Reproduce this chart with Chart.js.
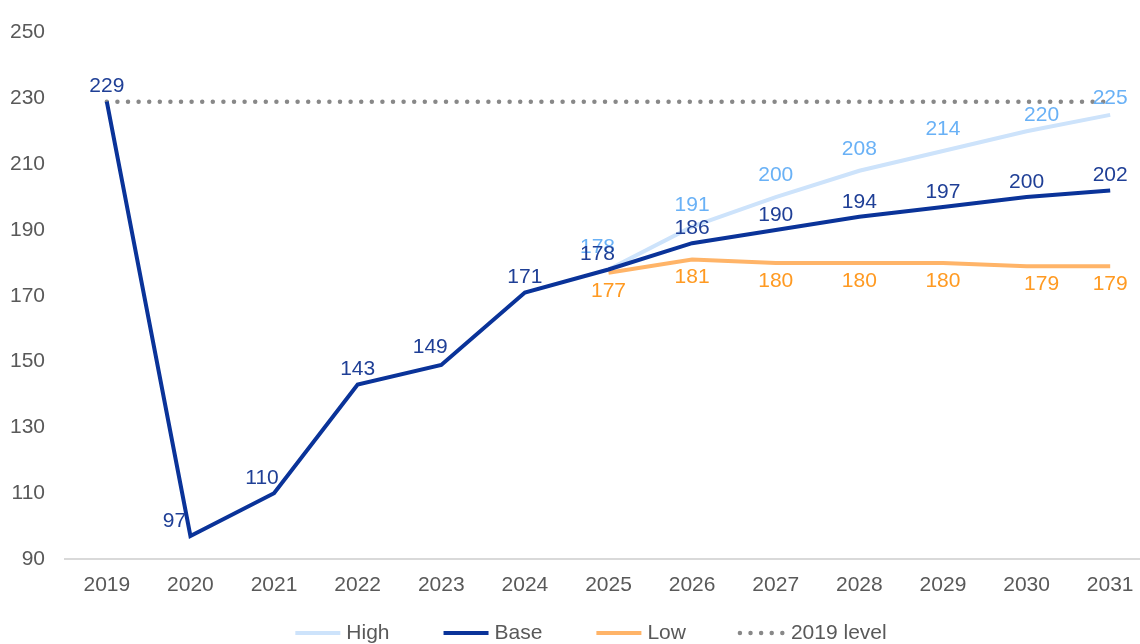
<!DOCTYPE html>
<html>
<head>
<meta charset="utf-8">
<script src="https://cdn.jsdelivr.net/npm/chart.js@4/dist/chart.umd.min.js"></script>
<style>
  html, body { margin: 0; padding: 0; background: #fff; overflow: hidden; }
  #wrap { width: 1180px; height: 654px; }
</style>
</head>
<body>
<div id="wrap"><canvas id="chart" width="1180" height="654"></canvas></div>
<script>
const years = ['2019', '2020', '2021', '2022', '2023', '2024', '2025', '2026', '2027', '2028', '2029', '2030', '2031'];
const high = [null, null, null, null, null, null, 178, 191, 200, 208, 214, 220, 225];
const base = [229, 97, 110, 143, 149, 171, 178, 186, 190, 194, 197, 200, 202];
const low = [null, null, null, null, null, null, 177, 181, 180, 180, 180, 179, 179];
const level2019 = [229, 229, 229, 229, 229, 229, 229, 229, 229, 229, 229, 229, 229];
const yTicks = [90, 110, 130, 150, 170, 190, 210, 230, 250];

const FONT = "'Liberation Sans', Arial, sans-serif";

// little tweaks so labels don't sit on top of the lines
const nudges = {
  Base: { 1: [-16, 0], 2: [-12, 0], 4: [-11, -3], 6: [-11, 0] },
  High: { 6: [-11, 0], 11: [15, 6], 12: [0, 5] },
  Low: { 11: [15, 0] }
};

const valueLabels = {
  id: 'valueLabels',
  afterDatasetsDraw(chart) {
    const ctx = chart.ctx;
    ctx.save();
    ctx.font = '21px ' + FONT;
    ctx.textAlign = 'center';
    ctx.textBaseline = 'middle';
    chart.data.datasets.forEach((ds, i) => {
      if (!ds.labelPos) return;
      const meta = chart.getDatasetMeta(i);
      meta.data.forEach((pt, j) => {
        const v = ds.data[j];
        if (v == null) return;
        const off = ds.labelPos === 'above' ? -ds.labelGap : ds.labelGap;
        const n = (nudges[ds.label] || {})[j] || [0, 0];
        ctx.fillStyle = ds.labelColor;
        ctx.fillText(String(v), pt.x + n[0], pt.y + off + n[1]);
      });
    });
    ctx.restore();
  }
};

// legend along the bottom: short line sample + name, centred under the chart
const bottomLegend = {
  id: 'bottomLegend',
  afterDraw(chart) {
    const ctx = chart.ctx;
    const sample = 47, textGap = 6, itemGap = 52, y = 633;
    ctx.save();
    ctx.font = '21px ' + FONT;
    ctx.textBaseline = 'middle';
    const items = chart.data.datasets.map(ds => ({ ds, w: sample + textGap + ctx.measureText(ds.label).width }));
    const total = items.reduce((s, it) => s + it.w, 0) + itemGap * (items.length - 1);
    let x = chart.width / 2 - total / 2;
    items.forEach(({ ds, w }) => {
      ctx.beginPath();
      ctx.strokeStyle = ds.borderColor;
      ctx.lineWidth = ds.borderWidth;
      ctx.lineCap = ds.borderCapStyle || 'butt';
      ctx.setLineDash(ds.borderDash || []);
      ctx.moveTo(x + 2, y);
      ctx.lineTo(x + sample, y);
      ctx.stroke();
      ctx.setLineDash([]);
      ctx.fillStyle = '#595959';
      ctx.fillText(ds.label, x + sample + textGap, y);
      x += w + itemGap;
    });
    ctx.restore();
  }
};

new Chart(document.getElementById('chart'), {
  type: 'line',
  data: {
    labels: years,
    datasets: [
      {
        label: 'High', data: high, borderColor: '#cde3fb', borderWidth: 4,
        labelPos: 'above', labelGap: 22, labelColor: '#69b1f6', order: 1
      },
      {
        label: 'Base', data: base, borderColor: '#0a3399', borderWidth: 4,
        labelPos: 'above', labelGap: 15, labelColor: '#1f3f96', order: 0
      },
      {
        label: 'Low', data: low, borderColor: '#ffb468', borderWidth: 4,
        labelPos: 'below', labelGap: 18, labelColor: '#ff9a22', order: 2
      },
      {
        label: '2019 level', data: level2019, borderColor: '#888888', borderWidth: 4.5,
        borderDash: [0, 10.6], borderCapStyle: 'round', order: 3
      }
    ]
  },
  options: {
    responsive: false,
    animation: false,
    elements: { point: { radius: 0 }, line: { tension: 0, fill: false } },
    layout: { padding: { top: 18, left: 9, right: 28, bottom: 43 } },
    scales: {
      x: {
        offset: true,
        grid: { display: false, drawTicks: false, offset: true },
        border: { display: true, color: '#d9d9d9', width: 2 },
        ticks: { color: '#595959', font: { family: FONT, size: 21 }, padding: 14 },
        afterFit(scale) { scale.height = 52; }
      },
      y: {
        min: 90, max: 250,
        afterBuildTicks(scale) { scale.ticks = yTicks.map(v => ({ value: v })); },
        grid: { display: false, drawTicks: false },
        border: { display: false },
        ticks: { color: '#595959', font: { family: FONT, size: 21 }, padding: 20 },
        afterFit(scale) { scale.width = 56; }
      }
    },
    plugins: {
      tooltip: { enabled: false },
      legend: { display: false }
    }
  },
  plugins: [valueLabels, bottomLegend]
});
</script>
</body>
</html>
